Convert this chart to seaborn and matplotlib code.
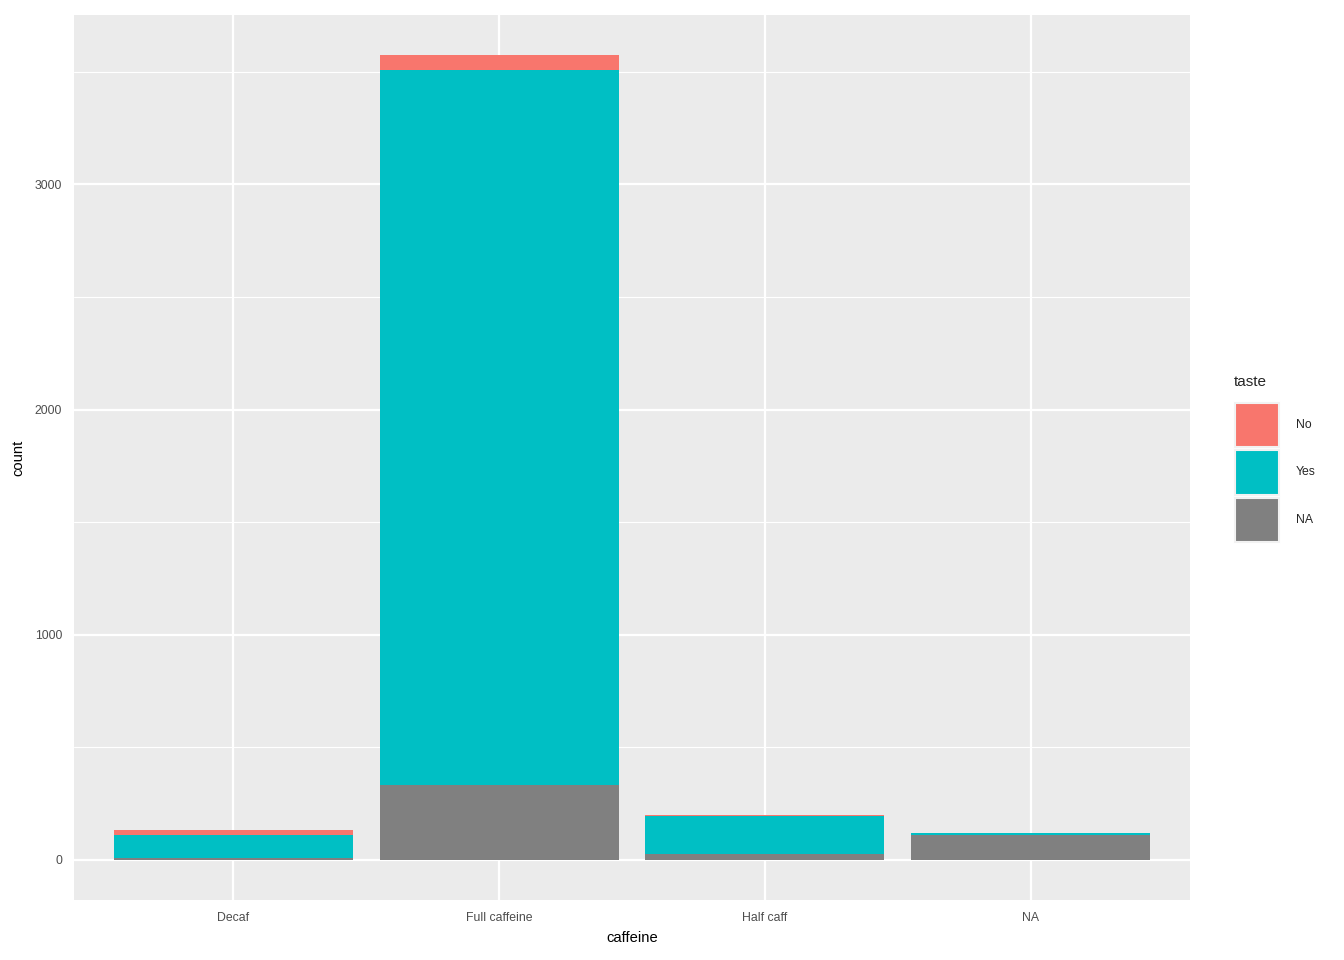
import numpy as np
import pandas as pd
import matplotlib
matplotlib.use("Agg")
import matplotlib.pyplot as plt
from matplotlib.patches import Patch
from matplotlib.ticker import MultipleLocator
import seaborn as sns

# counts
caffeine = ["Decaf", "Full caffeine", "Half caff", "NA"]
taste_levels = ["No", "Yes", "NA"]
n_no = [26, 66, 4, 3]
n_yes = [102, 3177, 172, 9]
n_na = [6, 331, 24, 109]

colors = {"No": "#F8766D", "Yes": "#00BFC4", "NA": "#808080"}

rows = []
for i, c in enumerate(caffeine):
    rows.append((c, "No", n_no[i]))
    rows.append((c, "Yes", n_yes[i]))
    rows.append((c, "NA", n_na[i]))
df = pd.DataFrame(rows, columns=["caffeine", "taste", "n"])

sns.set_style("white")
plt.rcParams["font.family"] = ["Liberation Sans", "DejaVu Sans"]

fig = plt.figure(figsize=(13.44, 9.6), dpi=100)
ax = fig.add_axes([74 / 1344, 60 / 960, (1190 - 74) / 1344, (900 - 15) / 960])
ax.set_facecolor("#EBEBEB")

sns.histplot(data=df, x="caffeine", weights="n", hue="taste",
             hue_order=taste_levels, palette=colors, multiple="stack",
             discrete=True, shrink=0.9, alpha=1, linewidth=0,
             legend=False, ax=ax)

totals = np.array(n_no) + np.array(n_yes) + np.array(n_na)
ymax = totals.max()
ax.set_ylim(-0.05 * ymax, ymax * 1.05)
ax.set_xlim(-0.6, len(caffeine) - 0.4)

ax.yaxis.set_major_locator(MultipleLocator(1000))
ax.yaxis.set_minor_locator(MultipleLocator(500))
ax.set_xticks(range(len(caffeine)))
ax.set_xticklabels(caffeine)

ax.grid(which="major", color="white", linewidth=1.6)
ax.grid(which="minor", axis="y", color="white", linewidth=0.8)
ax.set_axisbelow(True)
for s in ax.spines.values():
    s.set_visible(False)

ax.tick_params(axis="both", which="major", length=5, width=1.6,
               color="#333333", labelcolor="#4D4D4D", labelsize=8.8, pad=3.5)
ax.tick_params(axis="both", which="minor", length=0)

ax.set_xlabel("caffeine", fontsize=10.6, color="black", labelpad=5)
ax.set_ylabel("count", fontsize=10.6, color="black", labelpad=7)

# legend: title as separate text, keys below it
fig.text(1234 / 1344, 1 - 382 / 960, "taste", fontsize=11, va="center", ha="left")
handles = [Patch(facecolor=colors[t], edgecolor="#F2F2F2", linewidth=1.5)
           for t in taste_levels]
leg = fig.legend(handles, taste_levels, loc="upper left",
                 bbox_to_anchor=(1235 / 1344, 1 - 403 / 960),
                 frameon=False, fontsize=8.8, handlelength=3.6,
                 handleheight=5.2, labelspacing=0.25, handletextpad=1.4,
                 borderpad=0, borderaxespad=0)

fig.savefig("out.png", dpi=100)
